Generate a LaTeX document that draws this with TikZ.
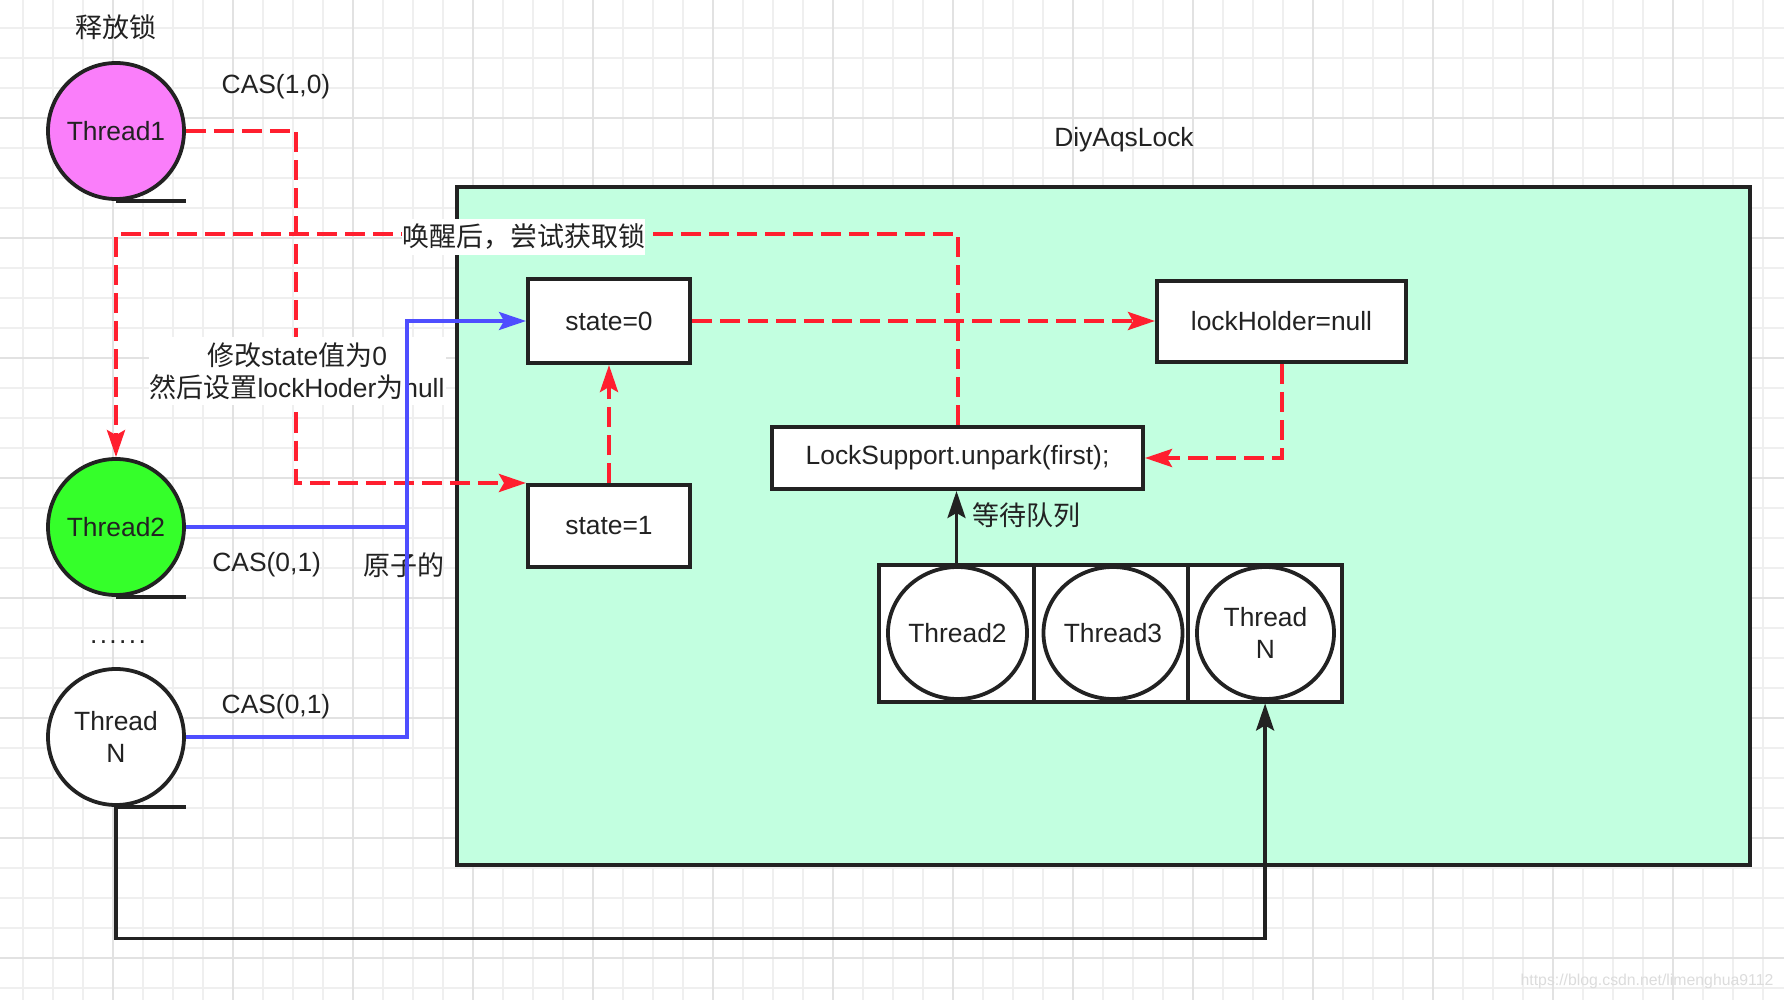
\documentclass[tikz,border=0pt]{standalone}
\usepackage{fontspec}
\setmainfont{Liberation Sans}
\newfontfamily\cjkfont{Noto Sans CJK SC}
\newcommand\zh[1]{{\cjkfont\fontsize{13.5pt}{16.2pt}\selectfont #1}}
\usetikzlibrary{arrows.meta,shapes.geometric,calc}
\definecolor{gridminor}{HTML}{EFEFEF}
\definecolor{gridmajor}{HTML}{E2E2E2}
\definecolor{mint}{HTML}{C2FFE0}
\definecolor{tred}{HTML}{FF1F2F}
\definecolor{tblue}{HTML}{4E4EFF}
\definecolor{ink}{HTML}{222222}
\definecolor{magentafill}{HTML}{FA7EFA}
\definecolor{greenfill}{HTML}{35FF2A}
\definecolor{wmark}{HTML}{DCDCDC}
\begin{document}
\begin{tikzpicture}[x=0.5pt,y=-0.5pt,
  every node/.style={font=\fontsize{13.2pt}{16.2pt}\selectfont, text=ink},
  tape/.style={circle, draw=ink, line width=1.9pt, minimum size=68pt, inner sep=0pt, align=center},
  box/.style={rectangle, draw=ink, line width=2pt, fill=white, inner sep=0pt},
  cell/.style={rectangle, draw=ink, line width=2pt, fill=white, minimum width=77.15pt, minimum height=68.5pt, inner sep=0pt},
  qcirc/.style={ellipse, draw=ink, line width=1.9pt, minimum width=68.5pt, minimum height=66pt, inner sep=0pt, align=center},
  tip/.style={-{Stealth[length=13.5pt,width=9pt,inset=2.5pt]}},
  reddash/.style={draw=tred, line width=2pt, dash pattern=on 10pt off 4pt},
  blueline/.style={draw=tblue, line width=1.6pt},
  blackline/.style={draw=ink, line width=1.7pt},
  lbl/.style={inner sep=0pt},
  wlbl/.style={fill=white, inner sep=0pt},
  tapeline/.style={draw=ink, line width=1.9pt},
]
\useasboundingbox (0,0) rectangle (1784,1000);
\fill[white] (0,0) rectangle (1784,1000);
% grid
\foreach \i in {0,...,59}{\draw[gridminor,line width=0.8pt] ({23+30*\i},0) -- ({23+30*\i},1000);}
\foreach \i in {0,...,32}{\draw[gridminor,line width=0.8pt] (0,{28+30*\i}) -- (1784,{28+30*\i});}
\foreach \i in {0,...,14}{\draw[gridmajor,line width=1pt] ({113+120*\i},0) -- ({113+120*\i},1000);}
\foreach \i in {0,...,7}{\draw[gridmajor,line width=1pt] (0,{118+120*\i}) -- (1784,{118+120*\i});}

% container
\node[draw=ink, fill=mint, line width=2pt, minimum width=646.5pt, minimum height=339pt, inner sep=0pt] (lock) at (1103.5,526) {};
\node[lbl] (locktitle) at (1124,140) {DiyAqsLock};

% free labels
\node[lbl] (release) at (116,27) {\zh{释放锁}};
\node[lbl] (cas10) at (276,87) {CAS(1,0)};
\node[lbl] (cas01a) at (266.7,565) {CAS(0,1)};
\node[lbl] (atomic) at (403.7,565) {\zh{原子的}};
\node[lbl, anchor=base] (dots) at (118,643) {\addfontfeature{LetterSpace=9}......};
\node[lbl] (cas01b) at (276,707) {CAS(0,1)};
\node[lbl] (queuelbl) at (1026,515) {\zh{等待队列}};
\node[lbl, text=wmark, font=\fontsize{7.9pt}{9pt}\selectfont] (wm) at (1647,981) {https://blog.csdn.net/limenghua9112};

% threads (tape shapes)
\node[tape, fill=magentafill] (t1) at (116,131) {Thread1};
\node[tape, fill=greenfill] (t2) at (116,527) {Thread2};
\node[tape, fill=white] (tn) at (116,737) {Thread\\N};
\draw[tapeline] (t1.south) -- (t1.south -| t1.east);
\draw[tapeline] (t2.south) -- (t2.south -| t2.east);
\draw[tapeline] (tn.south) -- (tn.south -| tn.east);

% boxes
\node[box, minimum width=81pt, minimum height=42pt] (s0) at (609,321) {state=0};
\node[box, minimum width=81pt, minimum height=41pt] (s1) at (609,526) {state=1};
\node[box, minimum width=124.5pt, minimum height=40.5pt] (lh) at (1281.5,321.5) {lockHolder=null};
\node[box, minimum width=185.5pt, minimum height=31pt] (ls) at (957.5,458) {LockSupport.unpark(first);};

% queue
\node[cell] (c1) at (956.5,633) {};
\node[cell] (c2) at (1110.8,633) {};
\node[cell] (c3) at (1265.1,633) {};
\node[qcirc] (q1) at (957.5,633) {Thread2};
\node[qcirc] (q2) at (1113,633) {Thread3};
\node[qcirc] (q3) at (1265.5,633) {Thread\\N};

% red dashed connectors
\draw[reddash,tip] (t1.east) -- ++(110.5,0) |- (s1.north west);
\draw[reddash,tip] (ls.north) -- ++(0,-191) -| (t2.north);
\draw[reddash,tip] (s0.east) -- (s0.east -| lh.west);
\draw[reddash,tip] (s1.north) -- (s0.south);
\draw[reddash,tip] (lh.south) |- (ls.east);

% labels with white background
\node[wlbl, minimum height=18pt] (wake) at (523.7,237) {\zh{唤醒后，尝试获取锁}};
\node[wlbl, align=center, minimum width=148.5pt, minimum height=34pt] (modify) at (297,371)
  {\zh{修改}state\zh{值为}0\\\zh{然后设置}lockHoder\zh{为}null};

% blue connectors
\coordinate (join) at ($(t2.east)+(221,0)$);
\draw[blueline,tip] (t2.east) -- (join) |- (s0.west);
\draw[blueline] (tn.east) -| (join);

% black connectors
\draw[blackline,tip] (tn.south) -- ++(0,131.5) -| (c3.south);
\draw[blackline,tip] (c1.north) -- (c1.north |- ls.south);
\end{tikzpicture}
\end{document}
